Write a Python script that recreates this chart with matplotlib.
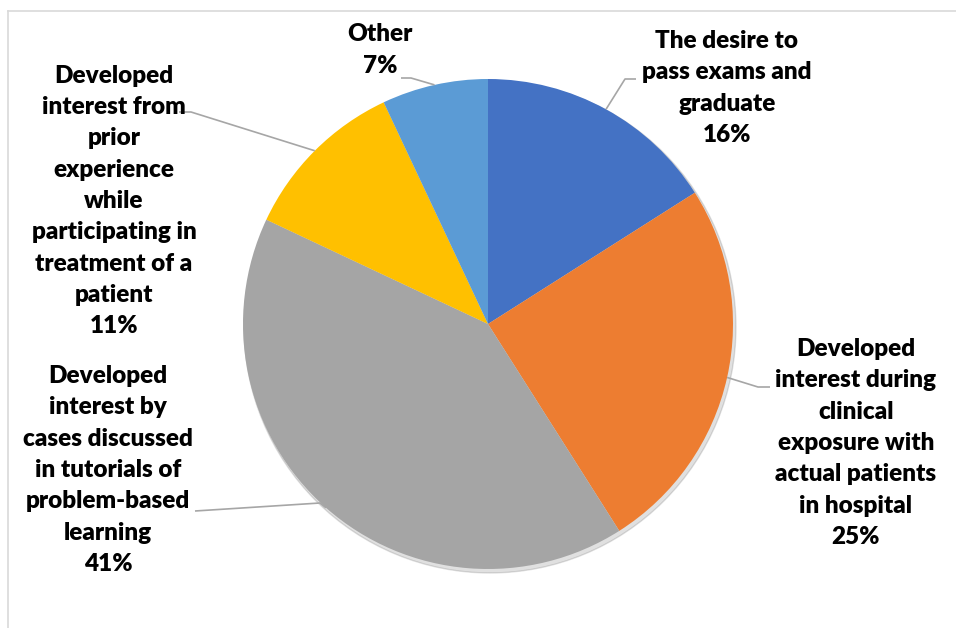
import matplotlib
matplotlib.use("Agg")
import matplotlib.pyplot as plt
import numpy as np

categories = [
    "The desire to\npass exams and\ngraduate",
    "Developed\ninterest during\nclinical\nexposure with\nactual patients\nin hospital",
    "Developed\ninterest by\ncases discussed\nin tutorials of\nproblem-based\nlearning",
    "Developed\ninterest from\nprior\nexperience\nwhile\nparticipating in\ntreatment of a\npatient",
    "Other",
]
values = [16, 25, 41, 11, 7]
colors = ["#4472C4", "#ED7D31", "#A5A5A5", "#FFC000", "#5B9BD5"]

# label layout (pixel coords, y from top)
label_pos = [(727, 88), (856, 443), (108, 470), (114, 201), (380, 50)]
elbow = [((625, 79), (636, 79)), ((758, 387), (770, 387)), ((320, 503), (195, 511)),
         ((191, 112), (179, 112)), ((411, 78), (401, 78))]

W, H = 956, 628
fig = plt.figure(figsize=(W / 100, H / 100), dpi=100)
ax = fig.add_axes([0, 0, 1, 1])

cx, cy, r = 488, H - 324, 245
sh = plt.Circle((cx + 2, cy - 3), r + 1, color="#000000", alpha=0.12, zorder=1)
ax.add_patch(sh)
wedges, _ = ax.pie(values, colors=colors, startangle=90, counterclock=False,
                   center=(cx, cy), radius=r, frame=True,
                   wedgeprops=dict(linewidth=0, zorder=2))
ax.set_xlim(0, W)
ax.set_ylim(0, H)
ax.set_aspect("equal")
ax.axis("off")

font = "Lato"
total = sum(values)
cum = 0
for i, v in enumerate(values):
    mid = 90 - (cum + v / 2) / total * 360
    cum += v
    sx = cx + r * np.cos(np.radians(mid))
    sy = cy + r * np.sin(np.radians(mid))
    (ex, ey), (fx, fy) = elbow[i]
    ax.plot([sx, ex, fx], [sy, H - ey, H - fy], color="#A6A6A6", lw=1.2, zorder=3,
            solid_capstyle="butt")
    lx, ly = label_pos[i]
    ax.text(lx, H - ly, f"{categories[i]}\n{v}%", ha="center", va="center",
            fontsize=17.5, fontweight="heavy", family=font, color="#000000",
            linespacing=1.52, zorder=4)

# chart frame
ax.plot([8, W], [H - 11, H - 11], color="#D9D9D9", lw=1.2, zorder=0)
ax.plot([8, 8], [H - 11, 0], color="#D9D9D9", lw=1.2, zorder=0)

fig.savefig("out.png", dpi=100, facecolor="white")
